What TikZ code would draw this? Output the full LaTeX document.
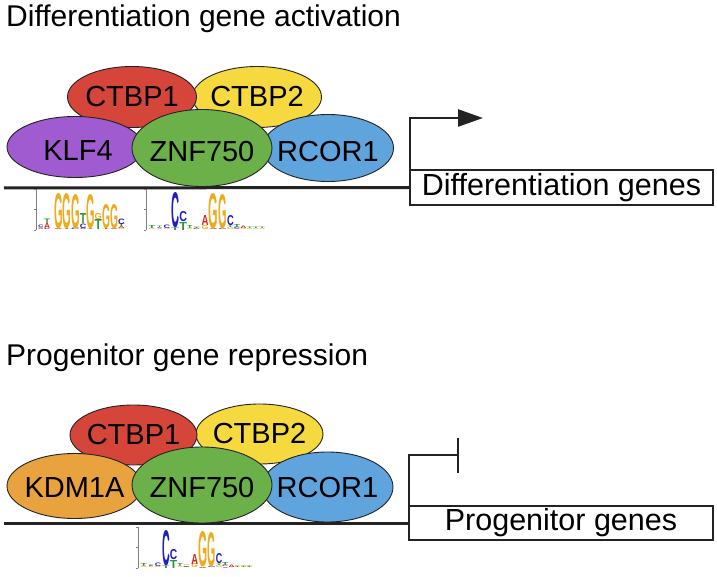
\documentclass[tikz,border=0pt]{standalone}
\usepackage{fontspec}
\setmainfont{Liberation Sans}
\usepackage{graphicx}
\usetikzlibrary{shapes.geometric,arrows.meta}
\definecolor{cred}{RGB}{214,69,57}
\definecolor{cyel}{RGB}{245,217,62}
\definecolor{cpur}{RGB}{159,91,207}
\definecolor{cgrn}{RGB}{108,176,74}
\definecolor{cblu}{RGB}{96,164,222}
\definecolor{cora}{RGB}{232,163,62}
\definecolor{cline}{RGB}{35,35,35}
\definecolor{lgA}{RGB}{210,40,30}
\definecolor{lgC}{RGB}{30,30,200}
\definecolor{lgG}{RGB}{240,170,30}
\definecolor{lgT}{RGB}{40,150,60}
\newcounter{lgc}
% #1 x offset from axis, #2 column width, #3 list letter/height (bottom to top)
\newcommand\logocol[3]{%
  \gdef\lgacc{0}%
  \pgfmathsetmacro\cw{#2*\lsx}%
  \pgfmathsetmacro\cx{\lx+#1*\lsx}%
  \foreach \L/\H in {#3}{%
    \stepcounter{lgc}%
    \node[name=lgn\arabic{lgc}, anchor=south west, inner sep=0pt, outer sep=0pt, text=lg\L]
      at (\cx, {\ly-\lgacc}) {\resizebox{\cw pt}{\H pt}{\bfseries\L}};
    \pgfmathsetmacro\tmpacc{\lgacc+\H}\xdef\lgacc{\tmpacc}%
  }%
}
\newcommand\logoaxis[2]{% axis x, baseline y
  \draw[gray, line width=0.5pt] (#1,#2) -- (#1,#2-41)
    (#1,#2) -- (#1-2,#2) (#1,#2-20.5) -- (#1-2,#2-20.5) (#1,#2-41) -- (#1-2,#2-41);
}
\newcommand\logoone{%
  \logocol{2}{5.5}{A/1.5, G/1, C/2.5}
  \logocol{8}{6}{C/1, A/5, T/4.5}
  \logocol{18}{8.6}{A/1, G/35}
  \logocol{26.6}{8.6}{T/1, G/35}
  \logocol{35.2}{8.6}{C/1.5, G/34}
  \logocol{43.8}{6.5}{A/1.5, C/4.5, T/10}
  \logocol{50.3}{8.4}{T/1, G/34}
  \logocol{58.7}{7.3}{T/10, G/6}
  \logocol{66}{8}{T/1, G/24}
  \logocol{74}{8}{A/1, G/24}
  \logocol{82}{6.7}{G/1, A/2, T/2.5, C/5.5}
}
\newcommand\logotwo{%
  \logocol{2.7}{6.6}{G/1.5, T/3}
  \logocol{11}{5}{G/1, C/1, T/1.5}
  \logocol{17.5}{6.6}{G/1, C/3.5}
  \logocol{25}{8}{T/2.5, C/35}
  \logocol{33.3}{7.7}{T/8, C/10}
  \logocol{41}{5.5}{G/1.5, T/3}
  \logocol{47}{7}{C/1, T/1, G/1}
  \logocol{55.5}{7}{G/4, A/10}
  \logocol{62.7}{9.5}{A/1, G/35}
  \logocol{72.4}{8.5}{C/1, G/34}
  \logocol{81}{6.7}{G/2.5, T/1.5, C/10}
  \logocol{87.7}{6.6}{A/1, C/1.5, T/3}
  \logocol{94.3}{6.2}{G/1, A/2.5}
  \logocol{100.5}{6.2}{G/1, T/1.5}
  \logocol{106.8}{6.2}{G/1, T/1.5}
  \logocol{113}{6.2}{G/1, T/1.5}
}
\tikzset{
  prot/.style={ellipse, draw=cline, line width=0.9pt, inner sep=0pt, outer sep=0pt},
  lbl/.style={font=\fontsize{29}{32}\selectfont, inner sep=0pt, text=black},
  ttl/.style={font=\fontsize{30}{36}\selectfont, inner sep=0pt, anchor=base west},
  genebox/.style={draw=cline, line width=2.2pt, inner sep=0pt, outer sep=0pt, font=\fontsize{30.5}{34}\selectfont},
  dna/.style={draw=cline, line width=3pt},
  gline/.style={draw=cline, line width=2.5pt, line join=miter},
}
\begin{document}
\begin{tikzpicture}[x=1pt, y=-1pt]
\useasboundingbox (0,0) rectangle (717,577);
\fill[white] (0,0) rectangle (717,577);

% ---------- top panel ----------
\node[ttl] (t1) at (6,27) {Differentiation gene activation};

\node[genebox, minimum width=303pt, minimum height=35pt] (dbox) at (561.5,187.5) {Differentiation genes};
\coordinate (dleft) at (4,188);
\coordinate (dcorner) at (410,118);
\coordinate (dtip) at (483,118);
\draw[dna] (dleft) -- (dbox.west);
\draw[gline, -{Triangle[length=25pt, width=17pt]}] (dbox.south west) -- (dcorner) -- (dtip);

\node[prot, fill=cyel, minimum width=129pt, minimum height=61pt] (c2a) at (257,97) {};
\node[lbl] (c2at) at (c2a.center) {CTBP2};
\node[prot, fill=cred, minimum width=129pt, minimum height=61pt] (c1a) at (132,97) {};
\node[lbl] (c1at) at (c1a.center) {CTBP1};
\node[prot, fill=cpur, minimum width=136pt, minimum height=61pt] (klf) at (75,147) {};
\node[lbl] (klft) at ([xshift=3pt,yshift=-4pt]klf.center) {KLF4};
\node[prot, fill=cblu, minimum width=131pt, minimum height=67pt] (rca) at (328,148) {};
\node[lbl] (rcat) at ([yshift=-4pt]rca.center) {RCOR1};
\node[prot, fill=cgrn, minimum width=140pt, minimum height=77pt] (zna) at (202,148) {};
\node[lbl] (znat) at ([yshift=-4pt]zna.center) {ZNF750};

\logoaxis{36}{230}
\def\lx{36}\def\ly{230}\def\lsx{1}
\logoone
\logoaxis{146}{230}
\def\lx{146}\def\ly{230}\def\lsx{1}
\logotwo

% ---------- bottom panel ----------
\node[ttl] (t2) at (6,365) {Progenitor gene repression};

\node[genebox, minimum width=304pt, minimum height=34pt] (pbox) at (561,523) {Progenitor genes};
\coordinate (pleft) at (4,523);
\coordinate (pcorner) at (409,455);
\coordinate (pbar) at (459,455);
\draw[dna] (pleft) -- (pbox.west);
\draw[gline, -{Bar[width=35pt]}] (pbox.south west) -- (pcorner) -- (pbar);

\node[prot, fill=cyel, minimum width=127pt, minimum height=60pt] (c2b) at (259.5,434) {};
\node[lbl] (c2bt) at (c2b.center) {CTBP2};
\node[prot, fill=cred, minimum width=127pt, minimum height=60pt] (c1b) at (133.5,435) {};
\node[lbl] (c1bt) at (c1b.center) {CTBP1};
\node[prot, fill=cora, minimum width=135pt, minimum height=65pt] (kdm) at (74.5,486) {};
\node[lbl] (kdmt) at ([yshift=-2pt]kdm.center) {KDM1A};
\node[prot, fill=cblu, minimum width=131pt, minimum height=70pt] (rcb) at (327.5,487) {};
\node[lbl] (rcbt) at ([yshift=-1pt]rcb.center) {RCOR1};
\node[prot, fill=cgrn, minimum width=140pt, minimum height=76pt] (znb) at (202,485) {};
\node[lbl] (znbt) at ([yshift=-3pt]znb.center) {ZNF750};

\logoaxis{138}{568}
\def\lx{138}\def\ly{568}\def\lsx{0.96}
\logotwo
\end{tikzpicture}
\end{document}
